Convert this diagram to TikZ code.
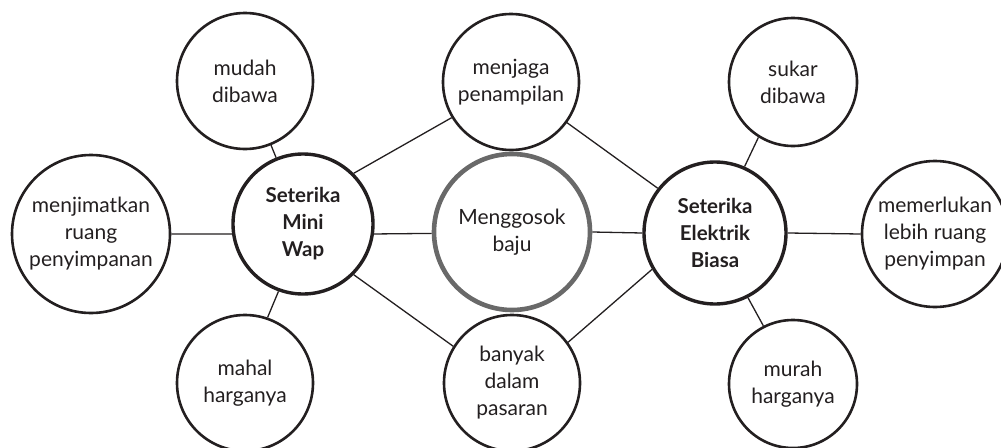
\documentclass[tikz,border=0pt]{standalone}
\usepackage{fontspec}
\setmainfont{Lato}
\definecolor{ink}{RGB}{35,31,32}
\definecolor{ringgrey}{RGB}{105,105,105}
\begin{document}
\begin{tikzpicture}[x=1pt,y=-1pt,
  bubble/.style={circle,draw=ink,line width=2.6pt,inner sep=0pt,align=center,text=ink,
    font=\fontsize{21}{27}\selectfont},
  hub/.style={bubble,line width=3.4pt,font=\bfseries\fontsize{20.5}{27}\selectfont},
  core/.style={bubble,draw=ringgrey,line width=4.6pt},
  link/.style={draw=ink,line width=1.3pt}]
\useasboundingbox (0,0) rectangle (1001,447);
\node[bubble,minimum size=136pt] (mu) at (245,81) {mudah\\dibawa};
\node[bubble,minimum size=136pt] (mj) at (511,82) {menjaga\\penampilan};
\node[bubble,minimum size=128pt] (sk) at (793,82) {sukar\\dibawa};
\node[bubble,minimum size=158pt] (mz) at (91,234) {menjimatkan\\ruang\\penyimpanan};
\node[hub,minimum size=140pt] (mw) at (303,224) {Seterika\\Mini\\Wap};
\node[core,minimum size=156pt] (mg) at (512,232) {Menggosok\\baju};
\node[hub,minimum size=142pt] (eb) at (715,233) {Seterika\\Elektrik\\Biasa};
\node[bubble,minimum size=146pt] (ml) at (935,234) {memerlukan\\lebih ruang\\penyimpan};
\node[bubble,minimum size=136pt] (mh) at (245,383) {mahal\\harganya};
\node[bubble,minimum size=136pt] (bd) at (512,383) {banyak\\dalam\\pasaran};
\node[bubble,minimum size=128pt] (mr) at (793,384) {murah\\harganya};
\draw[link] (mu) -- (mw);
\draw[link] (mz.east) -- (mw.188);
\draw[link] (mw.-110) -- (mh.71);
\draw[link] (mw.45) -- (mj.211);
\draw[link] (mw.-45) -- (bd.148);
\draw[link] (mw.-8) -- (mg.181);
\draw[link] (mg.east) -- (eb.west);
\draw[link] (mj.-36) -- (eb.142);
\draw[link] (bd.36) -- (eb.210);
\draw[link] (sk.238) -- (eb.66);
\draw[link] (eb.-63) -- (mr.117);
\draw[link] (eb.east) -- (ml.west);
\end{tikzpicture}
\end{document}
